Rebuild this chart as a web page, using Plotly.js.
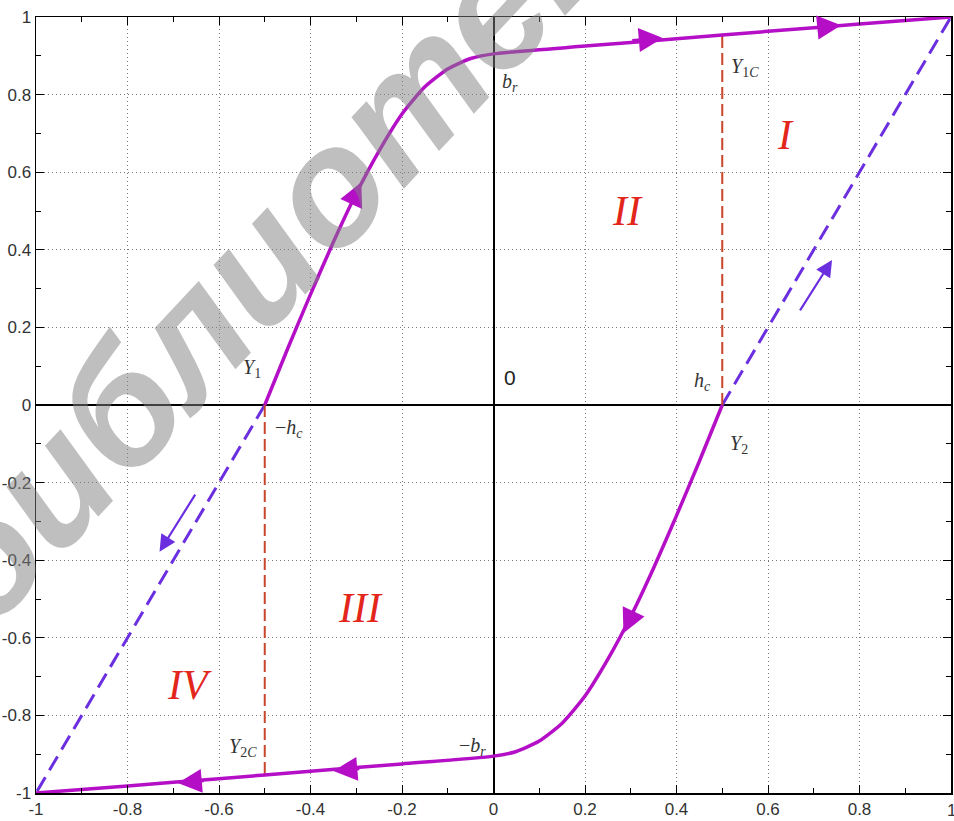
<!DOCTYPE html>
<html>
<head>
<meta charset="utf-8">
<script src="https://cdn.plot.ly/plotly-3.0.1.min.js"></script>
<style>html,body{margin:0;padding:0;background:#fff;}#chart{width:954px;height:821px;}</style>
</head>
<body>
<div id="chart"></div>
<script>
// Upper branch of the hysteresis loop (from Y1 up to saturation)
const upperX = [-0.5, -0.45, -0.4, -0.35, -0.3, -0.25, -0.2, -0.15, -0.1, -0.05, 0, 0.2, 0.4, 0.6, 0.8, 1.0];
const upperY = [0, 0.145, 0.285, 0.42, 0.545, 0.655, 0.75, 0.82, 0.866, 0.893, 0.905, 0.925, 0.944, 0.963, 0.982, 1.0];
// Lower branch (from Y2 down to negative saturation)
const lowerX = [0.5, 0.45, 0.4, 0.35, 0.3, 0.25, 0.2, 0.15, 0.1, 0.05, 0, -0.2, -0.4, -0.6, -0.8, -1.0];
const lowerY = [0, -0.145, -0.285, -0.42, -0.545, -0.655, -0.75, -0.82, -0.866, -0.893, -0.905, -0.925, -0.944, -0.963, -0.982, -1.0];
// Dashed return lines
const dashUpX = [0.5, 1.0];
const dashUpY = [0, 1.0];
const dashDownX = [-0.5, -1.0];
const dashDownY = [0, -1.0];
// Vertical coercive lines
const vertRightX = [0.5, 0.5];
const vertRightY = [0, 0.96];
const vertLeftX = [-0.5, -0.5];
const vertLeftY = [0, -0.96];
// Arrows: [tailX, tailY, headX, headY]
const curveArrows = [
  [-0.31, 0.52, -0.289, 0.574],
  [0.30, 0.939, 0.37, 0.946],
  [0.70, 0.972, 0.76, 0.979],
  [0.305, -0.535, 0.284, -0.588],
  [-0.29, -0.937, -0.35, -0.943],
  [-0.63, -0.968, -0.69, -0.974]
];
const sideArrows = [
  [0.668, 0.240, 0.740, 0.374],
  [-0.65, -0.227, -0.730, -0.378]
];
// Text labels
const labelText = ['<i>b<sub>r</sub></i>', '<i>Y</i><sub>1<i>C</i></sub>', '<i>Y</i><sub>1</sub>', '0', '<i>h<sub>c</sub></i>', '−<i>h<sub>c</sub></i>', '<i>Y</i><sub>2</sub>', '<i>Y</i><sub>2<i>C</i></sub>', '−<i>b<sub>r</sub></i>'];
const labelX = [0.035, 0.549, -0.527, 0.035, 0.456, -0.446, 0.536, -0.548, -0.046];
const labelY = [0.832, 0.869, 0.093, 0.07, 0.06, -0.061, -0.103, -0.883, -0.879];
const regionText = ['<i>I</i>', '<i>II</i>', '<i>III</i>', '<i>IV</i>'];
const regionX = [0.638, 0.293, -0.291, -0.664];
const regionY = [0.696, 0.5, -0.523, -0.722];
const tickVals = [-1, -0.8, -0.6, -0.4, -0.2, 0, 0.2, 0.4, 0.6, 0.8, 1];
const tickText = ['-1', '-0.8', '-0.6', '-0.4', '-0.2', '0', '0.2', '0.4', '0.6', '0.8', '1'];
const watermarkText = 'библиотека';

const MAG = '#b40fc6';
const BLUE = '#6b2fe0';
const RED = '#c9452b';

const traces = [
  {x: dashUpX, y: dashUpY, mode: 'lines', line: {color: BLUE, width: 3, dash: '16px,8px'}},
  {x: dashDownX, y: dashDownY, mode: 'lines', line: {color: BLUE, width: 3, dash: '16px,8px'}},
  {x: vertRightX, y: vertRightY, mode: 'lines', line: {color: RED, width: 2, dash: '12px,5px'}},
  {x: vertLeftX, y: vertLeftY, mode: 'lines', line: {color: RED, width: 2, dash: '12px,5px'}},
  {x: upperX, y: upperY, mode: 'lines', line: {color: MAG, width: 3.5, shape: 'spline', smoothing: 0.6}},
  {x: lowerX, y: lowerY, mode: 'lines', line: {color: MAG, width: 3.5, shape: 'spline', smoothing: 0.6}}
];

const annotations = [];
curveArrows.forEach(a => annotations.push({
  x: a[2], y: a[3], ax: a[0], ay: a[1], xref: 'x', yref: 'y', axref: 'x', ayref: 'y',
  text: '', showarrow: true, arrowhead: 2, arrowsize: 1.6, arrowwidth: 3, arrowcolor: MAG
}));
sideArrows.forEach(a => annotations.push({
  x: a[2], y: a[3], ax: a[0], ay: a[1], xref: 'x', yref: 'y', axref: 'x', ayref: 'y',
  text: '', showarrow: true, arrowhead: 2, arrowsize: 1.5, arrowwidth: 2.2, arrowcolor: BLUE
}));
labelText.forEach((t, i) => annotations.push({
  x: labelX[i], y: labelY[i], xref: 'x', yref: 'y', text: t, showarrow: false,
  font: i === 3 ? {family: 'Liberation Sans, Arial, sans-serif', size: 21, color: '#222'}
               : {family: 'Liberation Serif, Times New Roman, serif', size: 20, color: '#333'}
}));
regionText.forEach((t, i) => annotations.push({
  x: regionX[i], y: regionY[i], xref: 'x', yref: 'y', text: t, showarrow: false,
  font: {family: 'Liberation Serif, Times New Roman, serif', size: 42, color: '#e3261c'}
}));
// last x tick label at the right edge (partly cut in the reference)
annotations.push({
  x: 1, y: 0, xref: 'paper', yref: 'paper', xanchor: 'center', yanchor: 'top', yshift: -6,
  text: '1', showarrow: false,
  font: {family: 'Liberation Sans, Arial, sans-serif', size: 17, color: '#333'}
});
// watermark
annotations.push({
  x: 0.282, y: 0.7345, xref: 'paper', yref: 'paper', xanchor: 'center', yanchor: 'middle',
  text: '<b><i>' + watermarkText + '</i></b>',
  showarrow: false, textangle: -47,
  font: {family: 'Liberation Sans, Arial, sans-serif', size: 165, color: 'rgba(128,128,128,0.5)'}
});

const axisCommon = {
  range: [-1, 1], tickvals: tickVals, ticktext: tickText,
  showgrid: true, gridcolor: '#7a7a7a', griddash: '1px,3px', gridwidth: 1,
  zeroline: true, zerolinecolor: '#000', zerolinewidth: 2,
  showline: true, linecolor: '#000', linewidth: 1.5, mirror: 'ticks',
  ticks: 'inside', ticklen: 8, tickcolor: '#000', tickwidth: 1,
  minor: {dtick: 0.1, tick0: 0, ticks: 'inside', ticklen: 5, tickcolor: '#000', showgrid: false},
  tickfont: {family: 'Liberation Sans, Arial, sans-serif', size: 17, color: '#333'},
  fixedrange: true
};

const layout = {
  width: 954, height: 821,
  margin: {l: 36, r: 3, t: 17, b: 28},
  paper_bgcolor: '#fff', plot_bgcolor: '#fff',
  showlegend: false,
  xaxis: Object.assign({}, axisCommon),
  yaxis: Object.assign({}, axisCommon),
  annotations: annotations
};

Plotly.newPlot('chart', traces, layout, {displayModeBar: false, staticPlot: true});
</script>
</body>
</html>
